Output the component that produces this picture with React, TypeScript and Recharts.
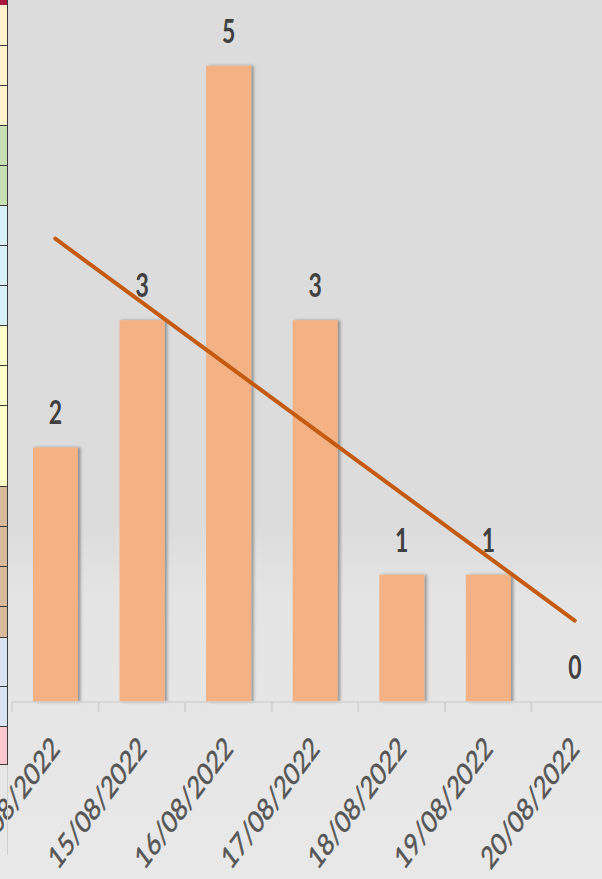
import React from 'react'
import { BarChart, Bar, XAxis, YAxis, LabelList, ReferenceLine } from 'recharts'

const dates = ['14/08/2022', '15/08/2022', '16/08/2022', '17/08/2022', '18/08/2022', '19/08/2022', '20/08/2022']
const counts = [2, 3, 5, 3, 1, 1, 0]
// trend line end values
const trendEnds = [3.64, 0.64]

const data = dates.map((date, i) => ({ date, count: counts[i] }))

// spreadsheet cells peeking in at the left edge
const sideCells = [
  { h: 5, c: '#a8173f' },
  { h: 41, c: '#fff2cc' },
  { h: 40, c: '#fff2cc' },
  { h: 40, c: '#fff2cc' },
  { h: 40, c: '#c6e0b4' },
  { h: 40, c: '#c6e0b4' },
  { h: 40, c: '#d9f1f9' },
  { h: 40, c: '#d9f1f9' },
  { h: 40, c: '#d9f1f9' },
  { h: 40, c: '#ffffcc' },
  { h: 40, c: '#ffffcc' },
  { h: 81, c: '#ffffcc' },
  { h: 40, c: '#d9b99b' },
  { h: 40, c: '#d9b99b' },
  { h: 40, c: '#d9b99b' },
  { h: 31, c: '#d9b99b' },
  { h: 49, c: '#dae3f3' },
  { h: 40, c: '#dae3f3' },
  { h: 38, c: '#ffc7ce' },
]

const BAND = 86.6

function ValueLabel(props: any) {
  const { x, y, width, value } = props
  return (
    <text
      transform={`translate(${x + width / 2},${y - 23}) scale(1,1.45)`}
      textAnchor="middle"
      fontFamily="Lato, 'DejaVu Sans Condensed', sans-serif"
      fontWeight={700}
      fontSize={23}
      fill="#404040"
    >
      {value}
    </text>
  )
}

function DateTick(props: any) {
  const { x, y, payload } = props
  return (
    <g>
      <line x1={x - BAND / 2} y1={y} x2={x - BAND / 2} y2={y + 10} stroke="#d2d2d2" strokeWidth={1.5} />
      <line x1={x + BAND / 2} y1={y} x2={x + BAND / 2} y2={y + 10} stroke="#d2d2d2" strokeWidth={1.5} />
      <text
        transform={`translate(${x + 6},${y + 48}) scale(1,1.34) rotate(-45)`}
        textAnchor="end"
        fontFamily="Lato, 'Open Sans', sans-serif"
        fontSize={23}
        stroke="#555555"
        strokeWidth={0.4}
        fill="#555555"
      >
        {payload.value}
      </text>
    </g>
  )
}

export default function App() {
  return (
    <div
      style={{
        position: 'relative',
        width: 602,
        height: 879,
        overflow: 'hidden',
        background:
          'linear-gradient(180deg, #dcdcdc 0%, #dcdcdc 60%, #e4e4e4 68%, #e8e8e8 100%)',
      }}
    >
      <style>{'body{margin:0}'}</style>
      <svg width="0" height="0" style={{ position: 'absolute' }}>
        <defs>
          <filter id="barShadow" x="-20%" y="-5%" width="150%" height="110%">
            <feDropShadow dx="2.5" dy="0" stdDeviation="1.6" floodColor="#000" floodOpacity="0.35" />
          </filter>
        </defs>
      </svg>
      <div style={{ position: 'absolute', left: 0, top: 0 }}>
        <BarChart width={630} height={879} data={data} margin={{ top: 2, right: 12, bottom: 0, left: 12 }}>
          <XAxis
            dataKey="date"
            height={177}
            interval={0}
            tickSize={0}
            tickMargin={0}
            tickLine={false}
            axisLine={{ stroke: '#d2d2d2', strokeWidth: 1.5 }}
            tick={<DateTick />}
          />
          <YAxis hide domain={[0, 5.5]} />
          <Bar
            dataKey="count"
            fill="#f4b183"
            barSize={45}
            minPointSize={(v: number) => (v === 0 ? 0.01 : 0)}
            filter="url(#barShadow)"
            isAnimationActive={false}
          >
            <LabelList dataKey="count" content={<ValueLabel />} />
          </Bar>
          <ReferenceLine
            segment={[
              { x: dates[0], y: trendEnds[0] },
              { x: dates[dates.length - 1], y: trendEnds[1] },
            ]}
            stroke="#c55a11"
            strokeWidth={4}
            strokeLinecap="round"
            ifOverflow="visible"
          />
        </BarChart>
      </div>
      <div style={{ position: 'absolute', left: 0, top: 0, width: 8 }}>
        {sideCells.map((cell, i) => (
          <div
            key={i}
            style={{
              height: cell.h,
              background: cell.c,
              boxSizing: 'border-box',
              borderRight: '1.5px solid #3a3a3a',
              borderBottom: i === 0 ? 'none' : '1.5px solid #3a3a3a',
            }}
          />
        ))}
        <div style={{ height: 90, borderRight: '1px solid #cfcfcf' }} />
      </div>
    </div>
  )
}
